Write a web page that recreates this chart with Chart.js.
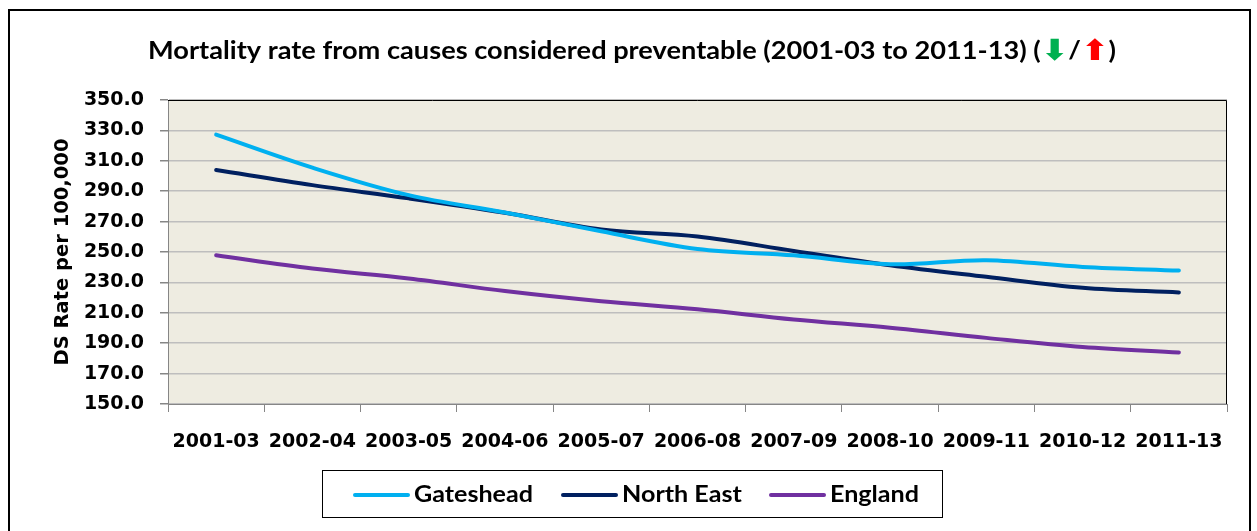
<!DOCTYPE html>
<html>
<head>
<meta charset="utf-8">
<script src="https://cdn.jsdelivr.net/npm/chart.js@4.4.1/dist/chart.umd.min.js"></script>
<style>
  html, body { margin: 0; padding: 0; background: #ffffff; }
  #wrap { position: relative; width: 1257px; height: 531px; }
  canvas { display: block; }
</style>
</head>
<body>
<div id="wrap"><canvas id="chart" width="1257" height="531"></canvas></div>
<script>
// Three-year periods
const periods = ['2001-03', '2002-04', '2003-05', '2004-06', '2005-07', '2006-08',
                 '2007-09', '2008-10', '2009-11', '2010-12', '2011-13'];

// Directly standardised mortality rate per 100,000
const gateshead = [327.2, 305.5, 287.4, 276.0, 263.6, 252.0, 247.8, 242.0, 244.6, 240.2, 237.8];
const northEast = [303.9, 294.0, 285.3, 275.8, 264.8, 260.2, 250.7, 241.3, 233.7, 226.5, 223.4];
const england   = [247.8, 239.1, 232.6, 224.3, 217.6, 212.3, 205.6, 200.2, 193.5, 187.5, 183.9];

const seriesNames = ['Gateshead', 'North East', 'England'];
const yTicks = { min: 150, max: 350, step: 20 };

// Title pieces; the arrows show the direction of change (down = better, up = worse)
const titleParts = [
  { text: 'Mortality rate from causes considered preventable (2001-03 to 2011-13) (', color: '#000000', arrow: false },
  { text: '\u2B07', color: '#00B050', arrow: true },
  { text: '/', color: '#000000', arrow: false },
  { text: '\u2B06', color: '#FF0000', arrow: true },
  { text: ')', color: '#000000', arrow: false }
];

const COLORS = ['#00B0F0', '#002060', '#7030A0'];

const TEXT_FONT = 'Lato, "Open Sans", sans-serif';
const ARROW_FONT = '"DejaVu Sans", sans-serif';

// Frame, plot border, title and legend box
const decorations = {
  id: 'decorations',
  beforeDraw(chart) {
    const { ctx, chartArea: a } = chart;
    ctx.save();
    ctx.fillStyle = '#EEECE1';
    ctx.fillRect(a.left, a.top, a.right - a.left, a.bottom - a.top);
    ctx.restore();
  },
  afterDatasetsDraw(chart) {
    const { ctx, chartArea: a } = chart;
    ctx.save();
    ctx.strokeStyle = '#000000';
    ctx.lineWidth = 1;
    ctx.beginPath();
    ctx.moveTo(a.left, a.top + 0.5);
    ctx.lineTo(a.right - 0.5, a.top + 0.5);
    ctx.lineTo(a.right - 0.5, a.bottom);
    ctx.stroke();
    ctx.restore();
  },
  afterDraw(chart) {
    const { ctx } = chart;
    ctx.save();
    // outer chart frame
    ctx.strokeStyle = '#000000';
    ctx.lineWidth = 2;
    ctx.strokeRect(9, 10, 1241, 540);

    // title with coloured arrows, fitted between the given edges
    const titleFont = 'bold 24px ' + TEXT_FONT;
    const arrowFont = 'bold 29px ' + ARROW_FONT;
    let total = 0;
    const widths = titleParts.map(p => {
      ctx.font = p.arrow ? arrowFont : titleFont;
      const w = ctx.measureText(p.text).width;
      total += w;
      return w;
    });
    const left = 148, right = 1116;
    const sx = (right - left) / total;
    ctx.translate(left, 58.5);
    ctx.scale(sx, 1);
    ctx.textBaseline = 'alphabetic';
    ctx.textAlign = 'left';
    let x = 0;
    titleParts.forEach((p, i) => {
      ctx.font = p.arrow ? arrowFont : titleFont;
      ctx.fillStyle = p.color;
      ctx.fillText(p.text, x, p.arrow ? 1 : 0);
      x += widths[i];
    });
    ctx.restore();

    // legend
    ctx.save();
    ctx.strokeStyle = '#000000';
    ctx.lineWidth = 1;
    ctx.strokeRect(322.5, 470.5, 620, 47);
    ctx.font = 'bold 23px ' + TEXT_FONT;
    ctx.textBaseline = 'alphabetic';
    ctx.textAlign = 'left';
    const lsx = 119 / ctx.measureText(chart.data.datasets[0].label).width;
    const itemX = [355, 563, 771];
    chart.data.datasets.forEach((ds, i) => {
      const x0 = itemX[i];
      ctx.strokeStyle = ds.borderColor;
      ctx.lineWidth = 4;
      ctx.lineCap = 'round';
      ctx.beginPath();
      ctx.moveTo(x0, 495);
      ctx.lineTo(x0 + 53, 495);
      ctx.stroke();
      ctx.save();
      ctx.translate(x0 + 59, 501.5);
      ctx.scale(lsx, 1);
      ctx.fillStyle = '#000000';
      ctx.fillText(ds.label, 0, 0);
      ctx.restore();
    });
    ctx.restore();
  }
};

const datasets = [gateshead, northEast, england].map((values, i) => ({
  label: seriesNames[i],
  data: values,
  borderColor: COLORS[i],
  backgroundColor: COLORS[i],
  borderWidth: 4,
  borderCapStyle: 'round',
  borderJoinStyle: 'round',
  pointRadius: 0,
  pointHoverRadius: 0,
  tension: 0.35,
  fill: false
}));

new Chart(document.getElementById('chart'), {
  type: 'line',
  data: { labels: periods, datasets },
  plugins: [decorations],
  options: {
    responsive: false,
    animation: false,
    devicePixelRatio: 1,
    layout: { padding: { top: 100, left: 10, right: 30, bottom: 0 } },
    plugins: {
      legend: { display: false },
      title: { display: false },
      tooltip: { enabled: false }
    },
    scales: {
      x: {
        offset: true,
        afterFit(scale) { scale.height = 127; },
        grid: {
          offset: true,
          drawOnChartArea: false,
          drawTicks: true,
          tickLength: 8,
          color: '#868686'
        },
        border: { color: '#868686', width: 1 },
        ticks: {
          color: '#000000',
          padding: 19,
          maxRotation: 0,
          autoSkip: false,
          font: { family: '"DejaVu Sans", sans-serif', size: 19, weight: 'bold' }
        }
      },
      y: {
        min: yTicks.min,
        max: yTicks.max,
        afterFit(scale) { scale.width = 158; },
        grid: {
          color: '#BEBEBE',
          lineWidth: 1.5,
          drawTicks: true,
          tickLength: 8,
          tickColor: '#868686'
        },
        border: { color: '#868686', width: 1 },
        ticks: {
          stepSize: yTicks.step,
          color: '#000000',
          padding: 16,
          callback: v => v.toFixed(1),
          font: { family: '"DejaVu Sans", sans-serif', size: 19, weight: 'bold' }
        },
        title: {
          display: true,
          text: 'DS Rate per 100,000',
          color: '#000000',
          padding: { top: 41, bottom: 0 },
          font: { family: '"DejaVu Sans", sans-serif', size: 19.5, weight: 'bold' }
        }
      }
    }
  }
});
</script>
</body>
</html>
